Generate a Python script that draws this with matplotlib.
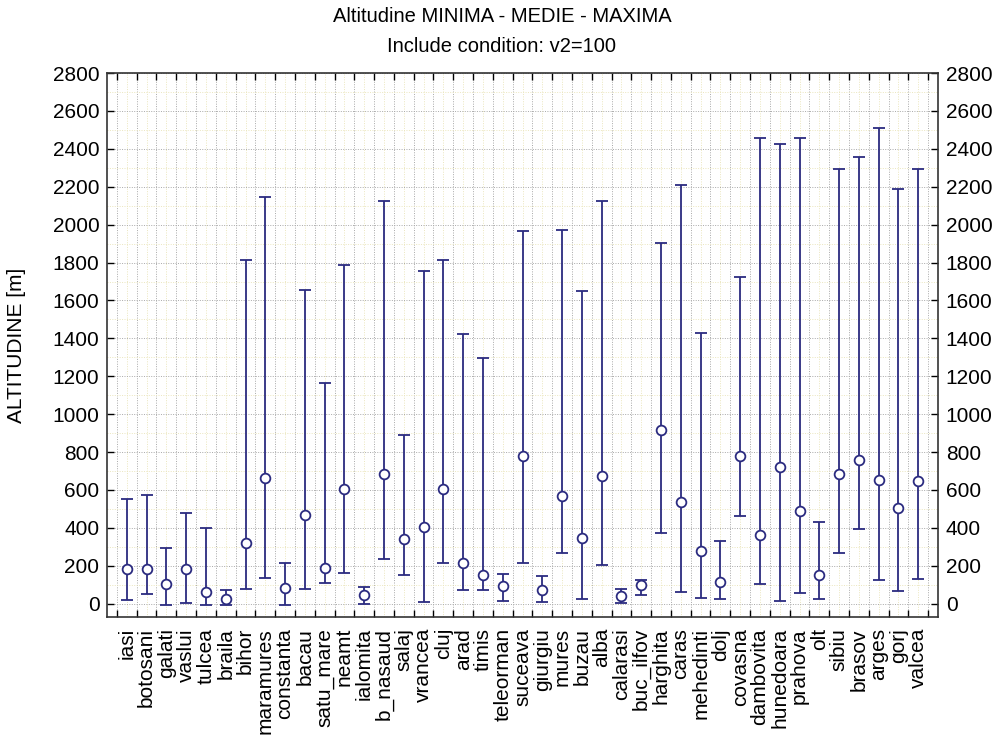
import matplotlib
matplotlib.use("Agg")
import matplotlib.pyplot as plt
import numpy as np
from matplotlib.ticker import MultipleLocator, FixedLocator

plt.rcParams['font.family'] = ['Liberation Sans', 'DejaVu Sans']

counties = ["iasi", "botosani", "galati", "vaslui", "tulcea", "braila", "bihor",
            "maramures", "constanta", "bacau", "satu_mare", "neamt", "ialomita",
            "b_nasaud", "salaj", "vrancea", "cluj", "arad", "timis", "teleorman",
            "suceava", "giurgiu", "mures", "buzau", "alba", "calarasi", "buc_ilfov",
            "harghita", "caras", "mehedinti", "dolj", "covasna", "dambovita",
            "hunedoara", "prahova", "olt", "sibiu", "brasov", "arges", "gorj", "valcea"]

alt_min = [19, 51, -6, 6, -6, -6, 79, 136, -6, 79, 107, 164, 0, 234, 151, 8,
           215, 74, 74, 13, 215, 8, 266, 23, 202, 4, 47, 371, 64, 28, 23, 462,
           102, 13, 57, 23, 266, 394, 123, 66, 130]
alt_mean = [183, 183, 104, 183, 60, 23, 320, 664, 83, 469, 189, 607, 47, 686,
            339, 405, 607, 215, 149, 92, 780, 75, 569, 349, 673, 41, 98, 918,
            535, 277, 117, 780, 362, 720, 490, 149, 686, 758, 654, 503, 649]
alt_max = [550, 575, 292, 481, 402, 70, 1814, 2147, 215, 1657, 1163, 1785, 89,
           2125, 890, 1757, 1814, 1421, 1299, 158, 1964, 145, 1970, 1650, 2125,
           79, 126, 1902, 2209, 1427, 330, 1725, 2455, 2426, 2455, 432, 2294,
           2355, 2511, 2187, 2294]

y_ticks = list(range(0, 2801, 200))

navy = "#2b2b80"

fig = plt.figure(figsize=(10.04, 7.36), dpi=100)
ax = fig.add_axes([0.1066, 0.1617, 0.8277, 0.7391])

x = np.arange(len(counties))
mean = np.array(alt_mean)
lo = mean - np.array(alt_min)
hi = np.array(alt_max) - mean

ax.errorbar(x, mean, yerr=[lo, hi], fmt='o', color=navy, ecolor=navy,
            elinewidth=1.3, capsize=4, capthick=1.3, markersize=7,
            markerfacecolor='white', markeredgecolor=navy, markeredgewidth=1.3,
            zorder=3)

ax.set_xlim(-1, len(counties))
ax.set_ylim(-70, 2800)

ax.set_xticks(x)
ax.set_xticklabels(counties, rotation=90, fontsize=15)
ax.tick_params(axis='x', which='major', length=0, pad=8)
ax.xaxis.set_minor_locator(FixedLocator(np.arange(-0.5, len(counties), 1.0)))
ax.tick_params(axis='x', which='minor', direction='in', length=5, top=True,
               bottom=True, width=1)

ax.set_yticks(y_ticks)
ax.yaxis.set_minor_locator(MultipleLocator(100))
ax.tick_params(axis='y', which='major', direction='in', length=5, left=True,
               right=True, labelleft=True, labelright=True, labelsize=15,
               width=1, pad=5.5)
ax.tick_params(axis='y', which='minor', length=0)

ax.grid(False)
for xv in np.arange(-0.5, len(counties), 1.0):
    ax.axvline(xv, color='#a8a8a8', linestyle=(0, (1, 1.5)), linewidth=0.7, zorder=1)
for xv in x:
    ax.axvline(xv, color='#ebe6be', linestyle=(0, (1, 1.5)), linewidth=0.7, zorder=1)
for yv in y_ticks:
    ax.axhline(yv, color='#a8a8a8', linestyle=(0, (1, 1.5)), linewidth=0.7, zorder=1)
for yv in range(100, 2800, 200):
    ax.axhline(yv, color='#ebe6be', linestyle=(0, (1, 1.5)), linewidth=0.7, zorder=1)

for s in ax.spines.values():
    s.set_color('#333333')
    s.set_linewidth(1.2)

ax.set_ylabel("ALTITUDINE [m]", fontsize=15)
ax.yaxis.set_label_coords(-0.098, 0.5)

fig.text(0.5, 0.977, "Altitudine MINIMA - MEDIE - MAXIMA", ha='center',
         va='center', fontsize=14.5)
fig.text(0.5, 0.9375, "Include condition: v2=100", ha='center', va='center',
         fontsize=14.5)

fig.savefig("out.png", dpi=100)
